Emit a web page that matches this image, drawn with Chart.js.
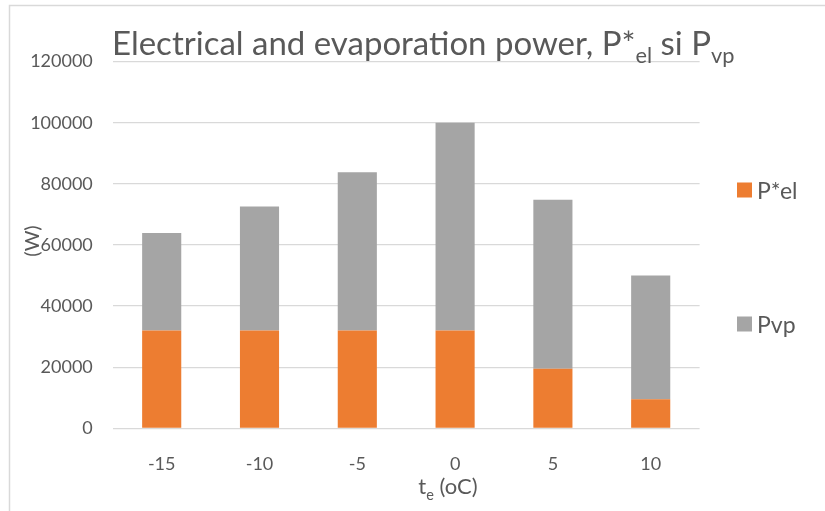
<!DOCTYPE html>
<html>
<head>
<meta charset="utf-8">
<script src="https://cdn.jsdelivr.net/npm/chart.js@4.4.1/dist/chart.umd.min.js"></script>
<style>
  html, body { margin: 0; padding: 0; background: #fff; }
  #wrap { width: 825px; height: 511px; position: relative; }
</style>
</head>
<body>
<div id="wrap"><canvas id="grafica"></canvas></div>
<script>
// categorias y series
const temperaturas = ["-15", "-10", "-5", "0", "5", "10"];
const pEl = [32000, 32000, 32000, 32000, 19500, 9500];
const pVp = [31900, 40600, 51800, 68000, 55300, 40500];
const yTicks = [0, 20000, 40000, 60000, 80000, 100000, 120000];

const gris = "#595959";
const fuente = "Lato, 'Open Sans', sans-serif";

// dibuja texto con subindices
function textoSub(ctx, partes, x, y, size, align) {
  let total = 0;
  partes.forEach(p => {
    ctx.font = (p.sub ? size * 0.66 : size) + "px " + fuente;
    total += ctx.measureText(p.t).width;
  });
  let cx = align === "center" ? x - total / 2 : x;
  partes.forEach(p => {
    const s = p.sub ? size * 0.66 : size;
    ctx.font = s + "px " + fuente;
    ctx.fillText(p.t, cx, p.sub ? y + size * 0.25 : y);
    cx += ctx.measureText(p.t).width;
  });
}

const extras = {
  id: "extras",
  beforeDraw(chart) {
    const ctx = chart.ctx;
    ctx.save();
    ctx.fillStyle = "#fff";
    ctx.fillRect(0, 0, chart.width, chart.height);
    // marco
    ctx.strokeStyle = "#d9d9d9";
    ctx.lineWidth = 1.5;
    ctx.beginPath();
    ctx.moveTo(9.5, 511);
    ctx.lineTo(9.5, 5.5);
    ctx.lineTo(825, 5.5);
    ctx.stroke();
    ctx.restore();
  },
  afterDraw(chart) {
    const ctx = chart.ctx;
    ctx.save();
    ctx.fillStyle = gris;
    ctx.textBaseline = "alphabetic";
    ctx.textAlign = "left";
    // titulo
    textoSub(ctx, [
      { t: "Electrical and evaporation power, P*" },
      { t: "el", sub: true },
      { t: " si P" },
      { t: "vp", sub: true }
    ], 112, 55, 33, "left");
    // titulo eje x
    textoSub(ctx, [{ t: "t" }, { t: "e", sub: true }, { t: " (oC)" }], 448, 494, 22, "center");
    // titulo eje y
    ctx.translate(39, 241);
    ctx.rotate(-Math.PI / 2);
    ctx.font = "20px " + fuente;
    ctx.textAlign = "center";
    ctx.fillText("(W)", 0, 0);
    ctx.restore();

    // leyenda
    ctx.save();
    const ys = [190, 324];
    chart.data.datasets.forEach((ds, i) => {
      ctx.fillStyle = ds.backgroundColor;
      ctx.fillRect(737, ys[i] - 7.5, 15, 15);
      ctx.fillStyle = gris;
      ctx.font = "23px " + fuente;
      ctx.textBaseline = "alphabetic";
      ctx.fillText(ds.label, 757, ys[i] + 8.5);
    });
    ctx.restore();
  }
};

new Chart(document.getElementById("grafica"), {
  type: "bar",
  data: {
    labels: temperaturas,
    datasets: [
      { label: "P*el", data: pEl, backgroundColor: "#ED7D31", borderWidth: 0 },
      { label: "Pvp", data: pVp, backgroundColor: "#A5A5A5", borderWidth: 0 }
    ]
  },
  options: {
    responsive: true,
    maintainAspectRatio: false,
    animation: false,
    layout: { padding: { top: 61.6, right: 125.4, left: 0, bottom: 0 } },
    datasets: { bar: { categoryPercentage: 1, barPercentage: 0.4 } },
    plugins: {
      legend: { display: false },
      title: { display: false },
      tooltip: { enabled: false }
    },
    scales: {
      x: {
        stacked: true,
        grid: { display: false },
        border: { display: false },
        ticks: { color: gris, font: { family: fuente, size: 18 }, padding: 17 },
        afterFit: s => { s.height = 82.7; }
      },
      y: {
        stacked: true,
        min: 0,
        max: 120000,
        afterBuildTicks: s => { s.ticks = yTicks.map(v => ({ value: v })); },
        grid: { color: "#d9d9d9", lineWidth: 1.2, drawTicks: false },
        border: { display: false },
        ticks: {
          color: gris,
          font: { family: fuente, size: 18 },
          padding: 20,
          callback: v => String(v)
        },
        afterFit: s => { s.width = 112.8; }
      }
    }
  },
  plugins: [extras]
});
</script>
</body>
</html>
